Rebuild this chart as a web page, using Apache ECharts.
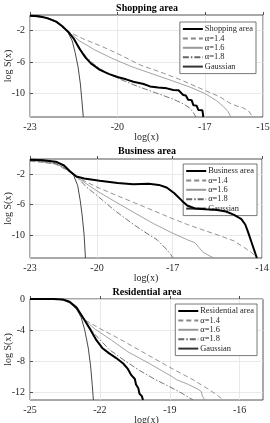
<!DOCTYPE html>
<html>
<head>
<meta charset="utf-8">
<script src="https://cdn.jsdelivr.net/npm/echarts@6/dist/echarts.min.js"></script>
<style>
  html, body { margin: 0; padding: 0; background: #fff; }
  #chart { width: 270px; height: 423px; }
</style>
</head>
<body>
<div id="chart"></div>
<script>
// panel titles and legend names
var titles = ['Shopping area', 'Business area', 'Residential area'];
var modelNames = ['\u03b1=1.4', '\u03b1=1.6', '\u03b1=1.8', 'Gaussian'];

// axis ranges and ticks (tick positions, then the text printed at them)
var xRanges = [[-23, -15], [-23, -14], [-25, -15]];
var xTicks = [[-23, -20, -17, -15], [-23, -20.4, -17.47, -14], [-25, -22, -19, -16]];
var xTickText = [['-23', '-20', '-17', '-15'], ['-23', '-20', '-17', '-14'], ['-25', '-22', '-19', '-16']];
var yRange = [-13, 0];
var yTicks = [[-10, -6, -2], [-10, -6, -2], [-12, -8, -4, 0]];

// Shopping area: [log(x), log S(x)]
var shopData = [[-23,-0.08],[-22.7,-0.15],[-22.4,-0.4],[-22.1,-0.85],[-21.9,-1.4],[-21.7,-2.1],[-21.5,-3.0],[-21.3,-4.3],[-21.1,-5.4],[-20.9,-6.2],[-20.6,-7.0],[-20.3,-7.5],[-20,-7.9],[-19.7,-8.2],[-19.45,-8.5],[-19.1,-8.8],[-18.88,-9.1],[-18.6,-9.25],[-18.3,-9.35],[-18.08,-9.55],[-17.9,-9.6],[-17.74,-10.2],[-17.65,-10.25],[-17.57,-10.8],[-17.45,-10.85],[-17.39,-11.5],[-17.28,-11.55],[-17.22,-12.1],[-17.08,-12.15],[-17.05,-13]];
var shopA14 = [[-23,-0.1],[-22.5,-0.35],[-22.1,-0.9],[-21.7,-2.1],[-21.2,-3.0],[-20.6,-3.9],[-20,-4.9],[-19.2,-6.4],[-18.5,-7.3],[-17.8,-8.3],[-17,-9.6],[-16.5,-10.4],[-16.1,-11.3],[-15.9,-11.6],[-15.7,-11.8],[-15.5,-12.2],[-15.35,-13]];
var shopA16 = [[-23,-0.1],[-22.5,-0.35],[-22.1,-0.9],[-21.7,-2.1],[-21.3,-3.3],[-20.8,-4.4],[-20.2,-5.5],[-19.5,-6.6],[-18.8,-7.5],[-18.1,-8.4],[-17.5,-9.2],[-17,-10.0],[-16.6,-10.9],[-16.35,-11.7],[-16.2,-12.3],[-16.1,-13]];
var shopA18 = [[-23,-0.1],[-22.5,-0.35],[-22.1,-0.9],[-21.7,-2.1],[-21.4,-3.6],[-21.1,-5.2],[-20.8,-6.3],[-20.4,-7.3],[-19.9,-8.2],[-19.3,-9.1],[-18.7,-9.9],[-18.1,-10.7],[-17.7,-11.4],[-17.5,-11.9],[-17.4,-12.4],[-17.3,-13]];
var shopGauss = [[-23,-0.05],[-22.6,-0.2],[-22.2,-0.65],[-21.9,-1.4],[-21.7,-2.2],[-21.55,-3.3],[-21.45,-4.8],[-21.35,-6.6],[-21.27,-8.8],[-21.22,-10.8],[-21.17,-13]];

// Business area
var busData = [[-23,-0.1],[-22.5,-0.15],[-22.0,-0.35],[-21.7,-0.8],[-21.45,-1.6],[-21.2,-2.3],[-20.9,-2.55],[-20.3,-2.85],[-19.6,-3.15],[-19.0,-3.3],[-18.4,-3.25],[-18.0,-3.4],[-17.7,-3.75],[-17.4,-4.5],[-17.1,-5.5],[-16.9,-6.1],[-16.6,-6.5],[-16.2,-6.6],[-15.8,-6.65],[-15.4,-6.9],[-15.1,-7.3],[-14.8,-7.9],[-14.65,-8.6],[-14.55,-9.5],[-14.4,-11],[-14.3,-12],[-14.2,-13]];
var busA14 = [[-23,-0.3],[-22.5,-0.45],[-22.0,-0.7],[-21.6,-1.4],[-21.18,-2.4],[-20.4,-3.7],[-19.7,-4.7],[-18.98,-5.7],[-18.2,-6.8],[-17.49,-7.8],[-16.9,-8.6],[-16.39,-9.2],[-15.7,-10.0],[-15.09,-10.75],[-14.7,-11.6],[-14.4,-12.3],[-14.18,-13]];
var busA16 = [[-23,-0.2],[-22.5,-0.35],[-22.0,-0.6],[-21.6,-1.3],[-21.18,-2.4],[-20.4,-4.2],[-19.7,-5.6],[-18.98,-7.0],[-18.2,-8.5],[-17.49,-9.7],[-16.9,-10.6],[-16.6,-11.0],[-16.45,-11.6],[-16.3,-12.2],[-16.1,-12.6],[-15.87,-13]];
var busA18 = [[-23,-0.2],[-22.5,-0.35],[-22.0,-0.6],[-21.6,-1.3],[-21.18,-2.4],[-20.8,-3.7],[-20.4,-4.8],[-19.7,-6.8],[-18.98,-8.6],[-18.5,-9.7],[-18.07,-10.6],[-17.75,-11.7],[-17.55,-12.5],[-17.45,-13]];
var busGauss = [[-23,-0.1],[-22.5,-0.15],[-22.0,-0.4],[-21.6,-1.1],[-21.3,-2.2],[-21.15,-3.5],[-21.05,-5.5],[-20.97,-7.6],[-20.9,-10],[-20.85,-13]];

// Residential area
var resData = [[-25,0],[-24,0],[-23.6,-0.05],[-23.3,-0.35],[-23.0,-1.1],[-22.7,-2.5],[-22.4,-4.0],[-22.15,-5.3],[-21.9,-6.3],[-21.6,-7.0],[-21.3,-7.6],[-21.0,-8.3],[-20.8,-9.0],[-20.65,-9.8],[-20.5,-10.3],[-20.45,-11.0],[-20.35,-11.5],[-20.3,-12.2],[-20.2,-12.5],[-20.15,-13]];
var resA14 = [[-25,0],[-24,0],[-23.6,-0.1],[-23.3,-0.5],[-23.0,-1.3],[-22.7,-2.6],[-22,-3.8],[-21,-5.4],[-20,-7.1],[-19,-8.8],[-18,-10.4],[-17.4,-11.5],[-17,-12.3],[-16.7,-13]];
var resA16 = [[-25,0],[-24,0],[-23.6,-0.1],[-23.3,-0.5],[-23.0,-1.3],[-22.7,-2.6],[-22.2,-3.9],[-21.5,-5.3],[-20.8,-6.8],[-20,-8.1],[-19.3,-9.3],[-18.9,-10.0],[-18.7,-10.4],[-18.2,-11.0],[-17.8,-11.6],[-17.65,-11.9],[-17.6,-12.5],[-17.5,-13]];
var resA18 = [[-25,0],[-24,0],[-23.6,-0.1],[-23.3,-0.5],[-23.0,-1.3],[-22.7,-2.6],[-22.2,-4.6],[-21.6,-6.5],[-21,-7.8],[-20.3,-9.2],[-19.6,-10.4],[-19,-11.3],[-18.5,-12.1],[-18,-13]];
var resGauss = [[-25,0],[-24,0],[-23.6,-0.1],[-23.3,-0.4],[-23.0,-1.3],[-22.8,-2.4],[-22.65,-4],[-22.5,-6.3],[-22.4,-8.6],[-22.33,-11],[-22.28,-13]];

var panelData = [
  [shopData, shopA14, shopA16, shopA18, shopGauss],
  [busData, busA14, busA16, busA18, busGauss],
  [resData, resA14, resA16, resA18, resGauss]
];

var font = '"Liberation Serif", "Times New Roman", serif';
var grids = [
  { left: 30, right: 7, top: 15, height: 102 },
  { left: 30, right: 8, top: 159, height: 99 },
  { left: 30, right: 7, top: 299, height: 101 }
];
var titleTops = [3, 146, 287];
var legendPos = [
  { right: 14, top: 22 },
  { right: 13, top: 164 },
  { right: 13, top: 304 }
];

var styles = [
  { color: '#000', width: 2, type: 'solid' },
  { color: '#888', width: 0.9, type: [5, 3] },
  { color: '#999', width: 0.9, type: 'solid' },
  { color: '#666', width: 0.9, type: [6, 2, 1.5, 2] },
  { color: '#333', width: 0.9, type: 'solid' }
];

var option = {
  backgroundColor: '#fff',
  animation: false,
  title: [],
  legend: [],
  grid: [],
  xAxis: [],
  yAxis: [],
  series: []
};

for (var p = 0; p < 3; p++) {
  var g = grids[p];
  option.grid.push({
    left: g.left, right: g.right, top: g.top, height: g.height,
    containLabel: false, outerBoundsMode: 'none',
    show: true, borderColor: '#262626', borderWidth: 0.8, backgroundColor: '#fff'
  });
  option.title.push({
    text: titles[p], left: 147, top: titleTops[p], textAlign: 'center', padding: 0,
    textStyle: { fontFamily: font, fontSize: 10, fontWeight: 'bold', color: '#000' }
  });
  (function (p) {
    option.xAxis.push({
      type: 'value', gridIndex: p, min: xRanges[p][0], max: xRanges[p][1],
      name: 'log(x)', nameLocation: 'middle', nameGap: 15, nameMoveOverlap: false,
      nameTextStyle: { fontFamily: font, fontSize: 10, color: '#262626' },
      axisLine: { show: false },
      axisTick: { show: true, inside: true, length: 3, customValues: xTicks[p], lineStyle: { color: '#262626', width: 0.8 } },
      axisLabel: {
        customValues: xTicks[p], fontFamily: font, fontSize: 10, color: '#262626', margin: 5,
        formatter: function (v) {
          var i = xTicks[p].indexOf(v);
          return i >= 0 ? xTickText[p][i] : String(v);
        }
      },
      splitLine: { show: true, lineStyle: { color: '#e3e3e3', width: 0.8 } }
    });
  })(p);
  option.yAxis.push({
    type: 'value', gridIndex: p, min: yRange[0], max: yRange[1],
    name: 'log S(x)', nameLocation: 'middle', nameGap: 17, nameMoveOverlap: false,
    nameTextStyle: { fontFamily: font, fontSize: 10, color: '#262626' },
    axisLine: { show: false },
    axisTick: { show: true, inside: true, length: 3, customValues: yTicks[p], lineStyle: { color: '#262626', width: 0.8 } },
    axisLabel: { customValues: yTicks[p], fontFamily: font, fontSize: 10, color: '#262626', margin: 5 },
    splitLine: { show: true, lineStyle: { color: '#e3e3e3', width: 0.8 } }
  });
  var names = [titles[p]].concat(modelNames);
  option.legend.push({
    data: names, orient: 'vertical', right: legendPos[p].right, top: legendPos[p].top,
    itemWidth: 20, itemHeight: 8, itemGap: 1.4,
    padding: [3, 3, 3, 2],
    itemStyle: { opacity: 0 },
    backgroundColor: '#fff', borderColor: '#555', borderWidth: 0.8, borderRadius: 0,
    textStyle: { fontFamily: font, fontSize: 8.4, lineHeight: 8, color: '#262626', padding: [0, 0, 0, -3] },
    selectedMode: false
  });
  for (var s = 0; s < 5; s++) {
    var st = styles[s];
    option.series.push({
      name: names[s], type: 'line', xAxisIndex: p, yAxisIndex: p,
      data: panelData[p][s], showSymbol: false, symbol: 'none', smooth: false,
      lineStyle: { color: st.color, width: st.width, type: st.type },
      itemStyle: { color: st.color },
      z: s === 0 ? 5 : 3
    });
  }
}

var chart = echarts.init(document.getElementById('chart'), null, { renderer: 'canvas' });
chart.setOption(option);
</script>
</body>
</html>
